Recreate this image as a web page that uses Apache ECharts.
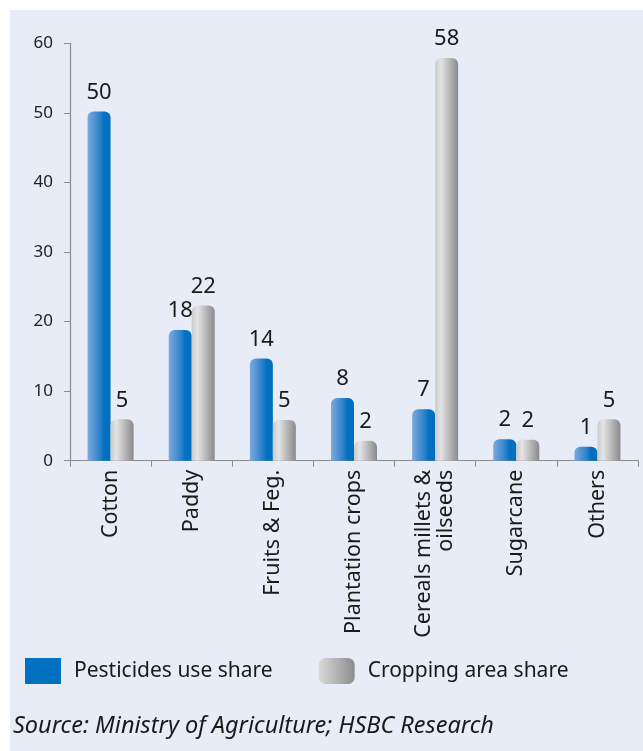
<!DOCTYPE html>
<html>
<head>
<meta charset="utf-8">
<script src="https://cdn.jsdelivr.net/npm/echarts@6/dist/echarts.min.js"></script>
<style>
html,body{margin:0;padding:0;background:#ffffff;}
#chart{width:643px;height:751px;}
</style>
</head>
<body>
<div id="chart"></div>
<script>
const categories = ['Cotton', 'Paddy', 'Fruits & Feg.', 'Plantation crops', 'Cereals millets &\noilseeds', 'Sugarcane', 'Others'];
const pesticideValues = [50.2, 18.8, 14.7, 9.0, 7.4, 3.1, 2.0];
const croppingValues = [5.95, 22.3, 5.85, 2.85, 57.9, 3.0, 5.95];
const pesticideLabels = ['50', '18', '14', '8', '7', '2', '1'];
const croppingLabels = ['5', '22', '5', '2', '58', '2', '5'];
const yTicks = [0, 10, 20, 30, 40, 50, 60];
const seriesNames = ['Pesticides use share', 'Cropping area share'];
const sourceText = 'Source: Ministry of Agriculture; HSBC Research';

const FONT = 'Noto Sans';
const blueGrad = new echarts.graphic.LinearGradient(0, 0, 1, 0, [
  {offset: 0, color: '#7EA9DE'},
  {offset: 0.55, color: '#2A80CA'},
  {offset: 0.72, color: '#0070C0'},
  {offset: 1, color: '#0070BE'}
]);
const grayGrad = new echarts.graphic.LinearGradient(0, 0, 1, 0, [
  {offset: 0, color: '#CACACA'},
  {offset: 0.25, color: '#E4E4E4'},
  {offset: 1, color: '#8A8A8A'}
]);
const grayGradLegend = new echarts.graphic.LinearGradient(0, 0, 1, 0, [
  {offset: 0, color: '#DADADA'},
  {offset: 1, color: '#8C8C8C'}
]);

const chart = echarts.init(document.getElementById('chart'), null, {renderer: 'canvas'});
chart.setOption({
  backgroundColor: '#ffffff',
  animation: false,
  graphic: [
    {type: 'rect', left: 10, top: 10, z: -10, silent: true,
     shape: {width: 633, height: 741}, style: {fill: '#E8ECF7'}},
    {type: 'text', left: 13, top: 715, z: 10,
     style: {text: sourceText, font: 'italic 23.5px "' + FONT + '"', fill: '#1a1a1a'}}
  ],
  legend: {
    left: 25, top: 658, padding: 0,
    itemWidth: 36, itemHeight: 26, itemGap: 46,
    textStyle: {fontFamily: FONT, fontSize: 21, color: '#1a1a1a', padding: [0, 0, 0, 8]},
    data: [
      {name: seriesNames[0], icon: 'rect', itemStyle: {color: '#0070C0'}},
      {name: seriesNames[1], icon: 'roundRect', itemStyle: {color: grayGradLegend}}
    ]
  },
  grid: {left: 70, right: 5, top: 43.3, bottom: 290.3, containLabel: false},
  xAxis: {
    type: 'category',
    data: categories,
    axisLine: {lineStyle: {color: '#8c8c8c', width: 1.2}},
    axisTick: {show: true, length: 6, lineStyle: {color: '#8c8c8c'}},
    axisLabel: {rotate: 90, margin: 9, fontFamily: FONT, fontSize: 21.5, color: '#1a1a1a', lineHeight: 22, interval: 0}
  },
  yAxis: {
    type: 'value',
    min: yTicks[0], max: yTicks[yTicks.length - 1], interval: 10,
    splitLine: {show: false},
    axisLine: {show: true, lineStyle: {color: '#8c8c8c', width: 1.2}},
    axisTick: {show: true, length: 6, lineStyle: {color: '#8c8c8c'}},
    axisLabel: {margin: 17, fontFamily: FONT, fontSize: 17, color: '#222'}
  },
  series: [
    {
      name: seriesNames[0], type: 'bar', data: pesticideValues,
      barWidth: 23, barGap: '0%',
      itemStyle: {color: blueGrad, borderRadius: [6, 6, 0, 0]},
      label: {show: true, position: 'top', distance: 8, fontFamily: FONT, fontSize: 22, color: '#1a1a1a',
        formatter: p => pesticideLabels[p.dataIndex]}
    },
    {
      name: seriesNames[1], type: 'bar', data: croppingValues,
      barWidth: 23,
      itemStyle: {color: grayGrad, borderRadius: [6, 6, 0, 0]},
      label: {show: true, position: 'top', distance: 8, fontFamily: FONT, fontSize: 22, color: '#1a1a1a',
        formatter: p => croppingLabels[p.dataIndex]}
    }
  ]
});
</script>
</body>
</html>
